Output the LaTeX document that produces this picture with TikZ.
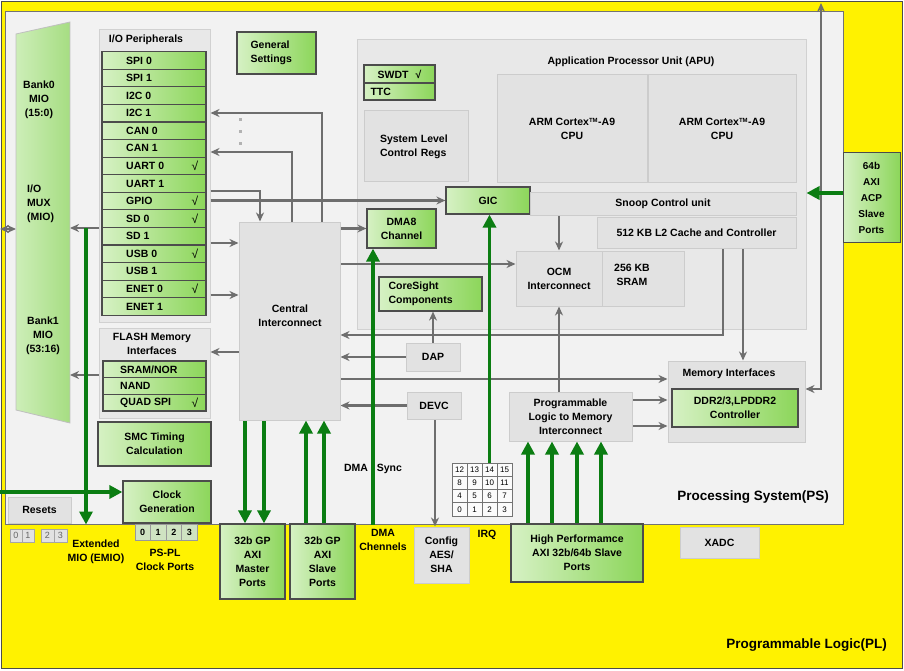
\documentclass[tikz,border=0pt]{standalone}
\usepackage{fontspec}
\setmainfont{Liberation Sans}
\usetikzlibrary{arrows.meta,backgrounds}
\definecolor{plYel}  {HTML}{FFF200}
\definecolor{psGray} {HTML}{F2F2F2}
\definecolor{apuGray}{HTML}{E8E8E8}
\definecolor{boxGray}{HTML}{E2E2E2}
\definecolor{grnL}   {HTML}{D6F1C4}
\definecolor{grnR}   {HTML}{8CD65A}
\definecolor{muxL}   {HTML}{CDEEB8}
\definecolor{muxR}   {HTML}{A6DD82}
\definecolor{arrGray}{HTML}{6E6E6E}
\definecolor{arrGrn} {HTML}{0B7D12}
\definecolor{cellGrn}{HTML}{CFE3C2}

\begin{document}
\begin{tikzpicture}[
  x=1pt,y=-1pt,
  font=\fontsize{10.5}{14}\selectfont\bfseries,
  >={Stealth[length=9pt,width=8pt]},
  sz/.style 2 args={minimum width=#1pt,minimum height=#2pt},
  grn/.style={draw=black!70,line width=1.2pt,left color=grnL,right color=grnR,
              align=center,inner sep=2pt},
  gry/.style={draw=black!20,line width=1pt,fill=boxGray,align=center,inner sep=2pt},
  cont/.style={draw=black!18,line width=1pt,fill=apuGray,inner sep=0pt},
  txt/.style={inner sep=0pt,align=center},
  irqc/.style={draw=black!55,line width=.6pt,fill=white!85!boxGray,sz={15}{13.25},
               inner sep=0pt,font=\fontsize{8}{9}\selectfont\mdseries},
  port/.style={draw=black!40,line width=.6pt,fill=cellGrn,inner sep=0pt,
               font=\fontsize{9}{10}\selectfont\bfseries},
  emio/.style={draw=black!35,line width=.6pt,fill=boxGray,inner sep=0pt,text=black!60,
               font=\fontsize{9}{10}\selectfont\mdseries},
  gline/.style={->,draw=arrGray,line width=2.6pt},
  gbus/.style={-{Triangle[length=13pt,width=13pt]},draw=arrGrn,line width=3.6pt},
]
\useasboundingbox (0,0) rectangle (904,671);

% ---- containers -----------------------------------------------------------
\begin{scope}[on background layer]
  \fill[white] (0,0) rectangle (904,671);
  \draw[fill=plYel,draw=black!70,line width=.8pt] (1,1) rectangle (902,668);
  \node[cont,fill=psGray,draw=black!55,sz={838}{512}] (ps)    at (424,268)   {};
  \node[cont,sz={449}{289}]                           (apu)   at (581.5,184.5) {};
  \node[cont,sz={111}{292}]                           (iop)   at (154.5,176) {};
  \node[cont,sz={111}{90}]                            (flash) at (154.5,373) {};
\end{scope}

% ---- I/O mux --------------------------------------------------------------
\shade[left color=muxL,right color=muxR,draw=black!25,line width=.8pt]
  (16,34) -- (70,22) -- (70,423) -- (16,410) -- cycle;
\coordinate (muxE)  at (70,228);
\coordinate (muxW)  at (16,229);
\coordinate (edgeL) at (0,229);
\node[txt] (bank0) at (39,100) {Bank0\\MIO\\(15:0)};
\node[txt,align=left,anchor=west] (muxT) at (27,204) {I/O\\MUX\\(MIO)};
\node[txt] (bank1) at (43,336) {Bank1\\MIO\\(53:16)};

% ---- I/O peripherals ------------------------------------------------------
\node[txt] (iopT) at (146,40) {I/O Peripherals};
\foreach \lbl/\chk [count=\i] in {SPI 0/0,SPI 1/0,I2C 0/0,I2C 1/0,CAN 0/0,CAN 1/0,
    UART 0/1,UART 1/0,GPIO/1,SD 0/1,SD 1/0,USB 0/1,USB 1/0,ENET 0/1,ENET 1/0}{
  \pgfmathsetmacro\yy{51.7+17.57*(\i-0.5)}
  \node[grn,sz={104}{17.57}] (io\i) at (154,\yy) {};
  \node[txt,anchor=west] (iot\i) at (126,\yy) {\lbl};
  \ifnum\chk=1 \node[txt,font=\fontsize{12}{12}\selectfont] (ioc\i) at (195,\yy) {√}; \fi
}

% ---- flash / smc / clocks -------------------------------------------------
\node[txt] (flashT) at (152,344) {FLASH Memory\\Interfaces};
\foreach \lbl/\chk [count=\i] in {{SRAM/NOR}/0,NAND/0,{QUAD SPI}/1}{
  \pgfmathsetmacro\yy{361+16.67*(\i-0.5)}
  \node[grn,sz={103}{16.67}] (fl\i) at (154.5,\yy) {};
  \node[txt,anchor=west] (flt\i) at (120,\yy) {\lbl};
  \ifnum\chk=1 \node[txt,font=\fontsize{12}{12}\selectfont] (flc\i) at (195,\yy) {√}; \fi
}
\node[grn,sz={113}{44}] (smc) at (154.5,444) {SMC Timing\\Calculation};
\node[grn,sz={88}{42}]  (clk) at (167,502)   {Clock\\Generation};
\foreach \c in {0,...,3}
  \node[port,sz={15.5}{16}] (cp\c) at ({142.75+15.5*\c},532) {\c};
\node[txt] (clkT) at (165,560) {PS-PL\\Clock Ports};
\node[gry,sz={63}{26}] (rst) at (39.5,510) {Resets};
\foreach \c/\xc/\w in {0/16/12,1/28/12,2/47.5/13,3/60.5/13}
  \node[emio,sz={\w}{13}] (em\c) at (\xc,535.5) {\c};
\node[txt] (emioT) at (96,552) {Extended\\MIO (EMIO)};
\coordinate (emioTop) at (86,228);
\coordinate (clkIn)   at (0,492);

% ---- misc PS blocks -------------------------------------------------------
\node[grn,sz={79}{42},text width=52pt,align=left] (gen) at (276.5,53) {General\\Settings};
\node[grn,sz={71}{18}] (swdt) at (399.5,74) {SWDT\hspace{7pt}√};
\node[grn,sz={71}{17},text width=58pt,align=left] (ttc) at (399.5,91.5) {TTC};
\node[gry,sz={104}{71},text width=72pt,align=left] (sysc) at (416,146.5)
  {System Level\\Control Regs};
\node[grn,sz={69}{39}]  (dma) at (401.5,228.5) {DMA8\\Channel};
\node[grn,sz={103}{34},text width=84pt,align=left] (cs) at (430.5,294)
  {CoreSight\\Components};
\node[gry,sz={101}{198}] (ci)   at (289.5,321)   {};
\node[txt]               (ciT)  at (290,315.5)   {Central\\Interconnect};
\node[gry,sz={54}{28}]   (dap)  at (433,357)     {DAP};
\node[gry,sz={54}{27}]   (devc) at (434,405.5)   {DEVC};

% ---- APU --------------------------------------------------------------------
\node[txt] (apuT) at (631,62) {Application Processor Unit (APU)};
\node[gry,sz={150}{108}] (cpu0) at (572,129)
  {ARM Cortex\textsuperscript{\fontsize{6}{6}\selectfont TM}-A9\\CPU};
\node[gry,sz={148}{108}] (cpu1) at (722,129)
  {ARM Cortex\textsuperscript{\fontsize{6}{6}\selectfont TM}-A9\\CPU};
\node[grn,sz={84}{27}]  (gic)   at (488,200.5) {GIC};
\node[gry,sz={266}{23}] (snoop) at (663,203.5) {Snoop Control unit};
\node[gry,sz={199}{31}] (l2)    at (696.5,232.5) {512 KB L2 Cache and Controller};
\node[gry,sz={86}{55}]  (ocm)   at (559,278.5) {OCM\\Interconnect};
\node[gry,sz={82}{55}]  (sram)  at (643,278.5) {};
\node[txt]              (sramT) at (632,275)   {256 KB\\SRAM};

% ---- memory side ----------------------------------------------------------
\node[gry,sz={123}{49}] (plm)   at (570.5,416.5) {Programmable\\Logic to Memory\\Interconnect};
\node[gry,sz={137}{81}] (memif) at (736.5,401.5) {};
\node[txt] (memT) at (729,374) {Memory Interfaces};
\node[grn,sz={126}{38}] (ddr)   at (735,408) {DDR2/3,LPDDR2\\Controller};
\coordinate (plTop) at (821,3);

% ---- PL side ports --------------------------------------------------------
\node[grn,sz={65}{75}]  (gpm)  at (252.5,561.5) {32b GP\\AXI\\Master\\Ports};
\node[grn,sz={65}{75}]  (gps)  at (322.5,561.5) {32b GP\\AXI\\Slave\\Ports};
\node[gry,sz={55}{56}]  (cfg)  at (441.5,555)   {Config\\AES/\\SHA};
\node[grn,sz={132}{58}] (hp)   at (577,553)     {High Performamce\\AXI 32b/64b Slave\\Ports};
\node[gry,sz={79}{31}]  (xadc) at (719.5,542.5) {XADC};
\node[grn,line width=1pt,sz={57}{89},font=\fontsize{10}{16}\selectfont\bfseries] (acp)
  at (871.5,197.5) {64b\\AXI\\ACP\\Slave\\Ports};
\foreach \r in {0,...,3}
  \foreach \c in {0,...,3}{
    \pgfmathtruncatemacro\n{12-4*\r+\c}
    \node[irqc] (irq\n) at ({459.5+15*\c},{469.6+13.25*\r}) {\n};
  }

% ---- labels -----------------------------------------------------------------
\node[txt] (dsync) at (373,469) {DMA\hspace{9pt}Sync};
\node[txt] (dchan) at (383,540) {DMA\\Chennels};
\node[txt] (irqT)  at (487,535) {IRQ};
\node[txt,anchor=east,font=\fontsize{13.5}{16}\selectfont\bfseries] (psT) at (829,497)
  {Processing System(PS)};
\node[txt,anchor=east,font=\fontsize{13.5}{16}\selectfont\bfseries] (plT) at (887,645)
  {Programmable Logic(PL)};

% ---- connectors on background layer -----------------------------------------
\begin{scope}[on background layer]
  % grey buses
  \draw[gline] (ci.north -| 322,0) |- (iop.east |- 0,113);
  \draw[gline] (ci.north -| 292,0) |- (iop.east |- 0,152);
  \foreach \y in {118,130,142} \fill[black!30] (239,\y) rectangle +(3,3);
  \draw[gline] (iop.east |- 0,191) -| (ci.north -| 260,0);
  \draw[gline] (iop.east |- gic.west) -- (gic.west);
  \draw[gline] (iop.east |- 0,243) -- (ci.west |- 0,243);
  \draw[gline] (iop.east |- 0,295) -- (ci.west |- 0,295);
  \draw[gline] (ci.west |- 0,352) -- (flash.east |- 0,352);
  \draw[gline] (iop.west |- muxE) -- (muxE);
  \draw[gline] (flash.west |- 0,375) -- (muxE |- 0,375);
  \draw[gline,<->] (edgeL) -- (muxW);
  \draw[gline] (ci.east |- dma.west) -- (dma.west);
  \draw[gline] (ci.east |- 0,264) -- (ocm.west |- 0,264);
  \draw[gline] (snoop.south -| ocm.north) -- (ocm.north);
  \draw[gline] (l2.south -| 723,0) |- (ci.east |- 0,335);
  \draw[gline] (dap.north) -- (dap.north |- cs.south);
  \draw[gline] (dap.west) -- (ci.east |- dap.west);
  \draw[gline] (devc.west) -- (ci.east |- devc.west);
  \draw[gline] (devc.south -| 435,0) -- (cfg.north -| 435,0);
  \draw[gline] (ci.east |- 0,379) -- (memif.west |- 0,379);
  \draw[gline] (l2.south -| 743,0) -- (memif.north -| 743,0);
  \draw[gline] (plm.north -| ocm.south) -- (ocm.south);
  \draw[gline] (plm.east |- 0,400) -- (memif.west |- 0,400);
  \draw[gline] (plm.east |- 0,426) -- (memif.west |- 0,426);
  \draw[gline,<->] (plTop) |- (memif.east |- 0,389);
  % green PL links
  \draw[gbus] (clkIn) -- (clk.west |- clkIn);
  \draw[gbus] (emioTop) -- (ps.south -| emioTop);
  \foreach \x in {245,264} \draw[gbus] (ci.south -| \x,0) -- (gpm.north -| \x,0);
  \foreach \x in {306,324} \draw[gbus] (gps.north -| \x,0) -- (ci.south -| \x,0);
  \draw[gbus] (ps.south -| 373,0) -- (dma.south -| 373,0);
  \draw[gbus] (irq14.north) -- (gic.south -| irq14.north);
  \foreach \x in {528,552,577,601} \draw[gbus] (hp.north -| \x,0) -- (plm.south -| \x,0);
  \draw[gbus] (acp.west |- 0,193) -- (apu.east |- 0,193);
\end{scope}

\end{tikzpicture}
\end{document}
